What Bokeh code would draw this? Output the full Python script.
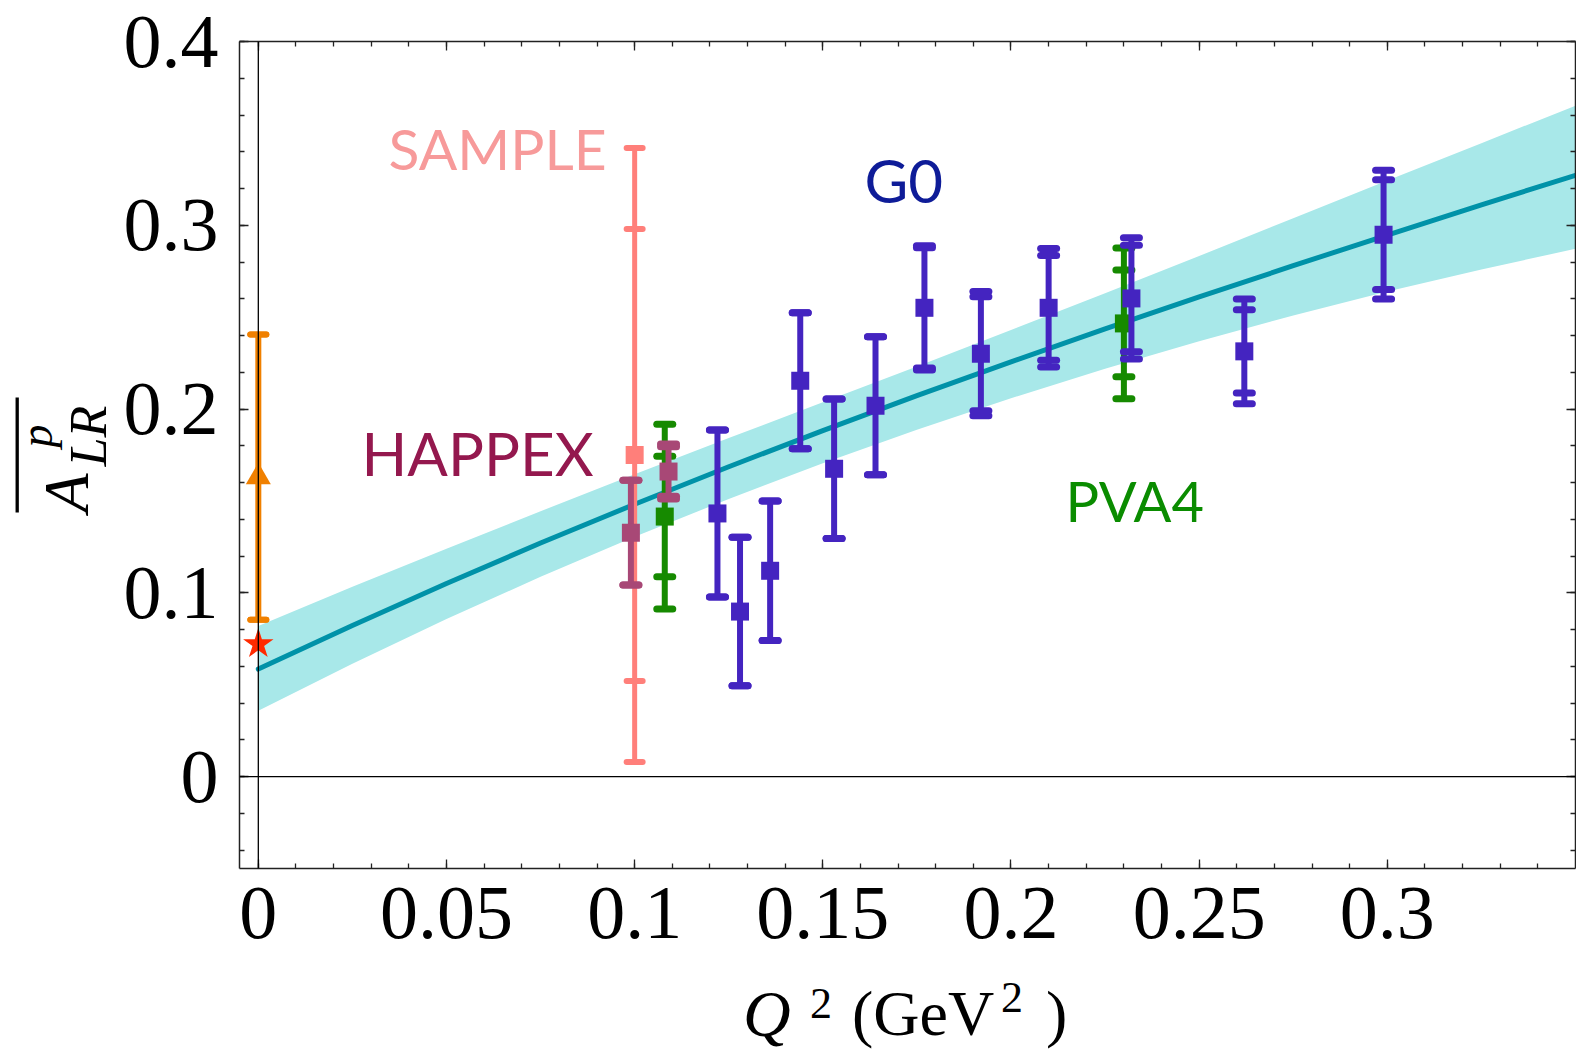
import math
import numpy as np
from bokeh.plotting import figure
from bokeh.layouts import row, column
from bokeh.models import Span, LinearAxis, SingleIntervalTicker, Range1d
from bokeh.core.properties import value
from bokeh.embed import file_html
from bokeh.resources import INLINE

# ---------------- data ----------------
# theory curve and its uncertainty band
curve_q2 = [0.0, 0.025, 0.05, 0.075, 0.1, 0.125, 0.15, 0.175, 0.2, 0.225, 0.25, 0.275, 0.3, 0.325, 0.35]
curve_mid = [0.0585, 0.0822, 0.1051, 0.1271, 0.1482, 0.1686, 0.1883, 0.2073, 0.2257, 0.2436, 0.261, 0.278, 0.2947, 0.3111, 0.3272]
curve_hi = [0.082, 0.1033, 0.1240, 0.1444, 0.1645, 0.1842, 0.2037, 0.2232, 0.2430, 0.2630, 0.2833, 0.3038, 0.3243, 0.3447, 0.3651]
curve_lo = [0.0358, 0.0614, 0.0857, 0.1087, 0.1305, 0.1511, 0.1705, 0.1888, 0.2059, 0.2219, 0.2369, 0.2509, 0.2639, 0.2760, 0.2872]

# G0
g0_q2 = [0.122, 0.128, 0.136, 0.144, 0.153, 0.164, 0.177, 0.192, 0.210, 0.232, 0.262, 0.299]
g0_a = [0.1432, 0.0898, 0.112, 0.2154, 0.1675, 0.2018, 0.2551, 0.2301, 0.2551, 0.2602, 0.2314, 0.2949]
g0_inner = [0.0454, 0.0404, 0.038, 0.037, 0.038, 0.0375, 0.0327, 0.031, 0.0285, 0.029, 0.0227, 0.0299]
g0_outer = [0.0454, 0.0404, 0.038, 0.037, 0.038, 0.0375, 0.0338, 0.0338, 0.0322, 0.033, 0.0285, 0.035]

# HAPPEX
hap_q2 = [0.099, 0.109]
hap_a = [0.1327, 0.166]
hap_inner = [0.0285, 0.0135]
hap_outer = [0.0285, 0.0150]

# PVA4
pva_q2 = [0.108, 0.230]
pva_a = [0.1415, 0.2466]
pva_inner = [0.0328, 0.029]
pva_outer = [0.0503, 0.041]

# SAMPLE
sam_q2 = [0.1]
sam_a = [0.175]
sam_inner = [0.123]
sam_outer = [0.167]

# Q^2 = 0 points
zero_q2 = [0.0]
zero_a = [0.163]
zero_err = [0.0776]
star_q2 = [0.0]
star_a = [0.0721]

# experiment labels
exp_names = ["SAMPLE", "HAPPEX", "G0", "PVA4"]
exp_colors = ["#F79A9A", "#94184E", "#0E1C98", "#0A8C00"]

X0, X1 = -0.005, 0.35
Y0, Y1 = -0.05, 0.4

# ---------------- geometry (page pixels) ----------------
W, H = 1576, 1051
LW = 120                       # left strip for y label
FL, FT, FW, FH = 238, 41, 1336, 827
MB = 104                       # bottom border of main plot (tick labels)
MH = FT + FH + MB              # main plot height
MW = W - LW                    # main plot width
SERIF_SHIFT = 0.34             # text anchor offset (em) for Liberation Serif
LATO_SHIFT = 0.39              # text anchor offset (em) for Lato


def dx(px):
    return X0 + (px - FL) / FW * (X1 - X0)


def dy(py):
    return Y1 - (py - FT) / FH * (Y1 - Y0)


# ---------------- main figure ----------------
p = figure(frame_width=FW, frame_height=FH,
           min_border_left=FL - LW, min_border_right=MW - (FL - LW) - FW,
           min_border_top=FT, min_border_bottom=MB,
           x_range=(X0, X1), y_range=(Y0, Y1),
           output_backend="svg", toolbar_location=None,
           x_axis_type=None, y_axis_type=None)
p.outline_line_color = None
p.background_fill_color = "white"
p.border_fill_color = "white"

AXC = "#222222"


def make_axis(ticker_int, labels):
    ax = LinearAxis(ticker=SingleIntervalTicker(interval=ticker_int, num_minor_ticks=5))
    ax.axis_line_color = AXC
    ax.axis_line_width = 1.5
    ax.major_tick_line_color = AXC
    ax.minor_tick_line_color = AXC
    ax.major_tick_line_width = 1.3
    ax.minor_tick_line_width = 1.3
    ax.major_tick_in = 9
    ax.major_tick_out = 0
    ax.minor_tick_in = 5
    ax.minor_tick_out = 0
    if labels:
        ax.major_label_text_font = "Liberation Serif"
        ax.major_label_text_font_size = "76px"
        ax.major_label_text_color = "black"
    else:
        ax.major_label_text_color = None
        ax.major_label_text_font_size = "1px"
        ax.major_label_standoff = 0
    return ax


xb = make_axis(0.05, True)
xb.major_label_standoff = 19
xb.major_label_overrides = {0: "0"}
yl = make_axis(0.1, True)
yl.major_label_standoff = 21
yl.major_label_overrides = {0: "0"}
p.add_layout(xb, "below")
p.add_layout(yl, "left")
p.add_layout(make_axis(0.05, False), "above")
p.add_layout(make_axis(0.1, False), "right")

# axes through the origin
p.add_layout(Span(location=0, dimension="width", line_color="black", line_width=1.3))
p.add_layout(Span(location=0, dimension="height", line_color="black", line_width=1.3))

# band and curve
p.varea(x=curve_q2, y1=curve_lo, y2=curve_hi, fill_color="#A8E8E9", fill_alpha=1.0)
p.line(curve_q2, curve_mid, line_width=5, line_color="#0092A8", line_cap="round")


def bars(q2, a, inner, outer, color, bw=6, cap=16, capw=6, marker="square", msize=18):
    q2 = np.array(q2); a = np.array(a); inner = np.array(inner); outer = np.array(outer)
    p.segment(x0=q2, y0=a - outer, x1=q2, y1=a + outer, line_width=bw, line_color=color)
    cx = np.concatenate([q2, q2, q2, q2])
    cy = np.concatenate([a + outer, a - outer, a + inner, a - inner])
    p.scatter(cx, cy, marker="dash", size=cap, line_width=capw, line_color=color, line_cap="round")
    if marker is not None:
        p.scatter(q2, a, marker=marker, size=msize, fill_color=color, line_color=None)


bars(zero_q2, zero_a, zero_err, zero_err, "#F08000", bw=6, cap=16, capw=6, marker="triangle", msize=25)
p.scatter(star_q2, star_a, marker="star", size=32, fill_color="#FF2A00", line_color=None)

bars(sam_q2, sam_a, sam_inner, sam_outer, "#FF7F7A", bw=5, cap=16, capw=6)
bars(pva_q2, pva_a, pva_inner, pva_outer, "#168A00", bw=6, cap=16, capw=7)
bars(hap_q2, hap_a, hap_inner, hap_outer, "#A84876", bw=6, cap=16, capw=7)
bars(g0_q2, g0_a, g0_inner, g0_outer, "#4424C0", bw=6, cap=16, capw=7)

# experiment labels (left edge / baseline in page pixels -> data)
lab_px = [387, 360, 863, 1064]
lab_py = [170, 476, 203, 522]
lab_fs = [57, 60, 60, 56]
for name, col, px, py, fs in zip(exp_names, exp_colors, lab_px, lab_py, lab_fs):
    p.text(x=[dx(px)], y=[dy(py - LATO_SHIFT * fs)], text=[name],
           text_color=col, text_font=value("Lato"), text_font_size=value(f"{fs}px"),
           text_baseline="alphabetic", text_align="left")

# ---------------- left strip: y label ----------------
L = figure(width=LW, height=H, min_border=0, x_range=Range1d(0, LW), y_range=Range1d(0, H),
           output_backend="svg", toolbar_location=None, x_axis_type=None, y_axis_type=None)
L.outline_line_color = None
L.xgrid.visible = False
L.ygrid.visible = False
ang = math.pi / 2
for txt, bx, by, fs in [("A", 88, 512, 64), ("LR", 106, 466, 52), ("p", 52, 447, 46)]:
    L.text(x=[bx - SERIF_SHIFT * fs], y=[H - by], text=[txt], angle=ang,
           text_font=value("Liberation Serif"), text_font_style="italic",
           text_font_size=value(f"{fs}px"), text_color="black",
           text_baseline="alphabetic", text_align="left")
L.segment(x0=[16.7], y0=[H - 397], x1=[16.7], y1=[H - 512], line_width=3.3, line_color="black")

# ---------------- bottom strip: x label ----------------
BH = H - MH
B = figure(width=MW, height=BH, min_border=0, x_range=Range1d(FL, FL + FW), y_range=Range1d(0, BH),
           output_backend="svg", toolbar_location=None, x_axis_type=None, y_axis_type=None)
B.outline_line_color = None
B.xgrid.visible = False
B.ygrid.visible = False
for txt, bx, by, fs, st in [("Q", 742, 1035, 66, "italic"),
                            ("2", 809, 1018, 44, "normal"),
                            ("(GeV", 851, 1035, 64, "normal"),
                            ("2", 1000, 1012, 44, "normal"),
                            (")", 1045, 1035, 64, "normal")]:
    B.text(x=[bx], y=[H - (by - SERIF_SHIFT * fs)], text=[txt], text_font=value("Liberation Serif"),
           text_font_style=st, text_font_size=value(f"{fs}px"), text_color="black",
           text_baseline="alphabetic", text_align="left")

layout = row(L, column(p, B, spacing=0), spacing=0)
open("out.html", "w").write(file_html(layout, INLINE))
